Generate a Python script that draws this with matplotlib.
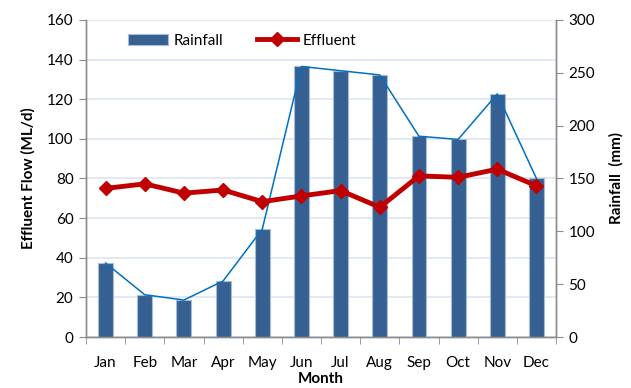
import matplotlib.pyplot as plt
import numpy as np
from matplotlib.ticker import MultipleLocator, FixedLocator

plt.rcParams['font.family'] = ['Lato', 'DejaVu Sans']

months = ['Jan', 'Feb', 'Mar', 'Apr', 'May', 'Jun',
          'Jul', 'Aug', 'Sep', 'Oct', 'Nov', 'Dec']
rainfall = [70, 40, 35, 53, 102, 256, 252, 248, 190, 187, 230, 150]
effluent = [75, 77.3, 72.6, 74.2, 68.3, 71.2, 73.9, 65.5, 81.3, 80.6, 84.7, 76.3]

x = np.arange(len(months))

fig = plt.figure(figsize=(6.31, 3.88), dpi=100)
ax = fig.add_axes([0.1363, 0.1314, 0.7449, 0.8171])
ax2 = ax.twinx()

# left axis: effluent flow, with gridlines behind everything
ax.set_ylim(0, 160)
ax.yaxis.set_major_locator(MultipleLocator(20))
ax.set_xlim(-0.5, 11.5)
ax.grid(axis='y', color='#dce6f2', linewidth=1.2)
ax.set_axisbelow(True)

# right axis: rainfall bars plus thin line through the bar tops
ax2.set_ylim(0, 300)
ax2.yaxis.set_major_locator(MultipleLocator(50))
bars = ax2.bar(x, rainfall, width=0.38, color='#376092', edgecolor='#a7bcd8',
               linewidth=0.8, label='Rainfall', zorder=2)
ax2.plot(x, rainfall, color='#0070c0', linewidth=1.1, zorder=3)

# effluent drawn on top using the left axis scale
eff_line, = ax2.plot(x, effluent, color='#c00000', linewidth=3.5, marker='D',
                     markersize=7.5, transform=ax.transData, label='Effluent',
                     zorder=4)

for a in (ax, ax2):
    a.spines['top'].set_visible(False)
    for s in ('left', 'right', 'bottom'):
        a.spines[s].set_color('#8c8c8c')
        a.spines[s].set_linewidth(1.0)
    a.tick_params(axis='y', direction='out', length=5, color='#8c8c8c',
                  labelsize=11, pad=4)

ax.set_xticks(x)
ax.set_xticklabels(months)
ax.xaxis.set_minor_locator(FixedLocator(np.arange(-0.5, 12, 1)))
ax.tick_params(axis='x', which='major', length=0, labelsize=11, pad=14)
ax.tick_params(axis='x', which='minor', length=5, color='#8c8c8c')

ax.set_ylabel('Effluent Flow (ML/d)', fontsize=11, fontweight='bold', labelpad=8)
ax2.set_ylabel('Rainfall  (mm)', fontsize=11, fontweight='bold', labelpad=10)
ax.set_xlabel('Month', fontsize=11, fontweight='bold', labelpad=1)

ax2.legend([bars, eff_line], ['Rainfall', 'Effluent'], loc='upper left',
           bbox_to_anchor=(0.06, 1.0), ncol=2, frameon=False, fontsize=11,
           handlelength=2.6, columnspacing=2.2, handletextpad=0.4)

fig.savefig('out.png', dpi=100)
